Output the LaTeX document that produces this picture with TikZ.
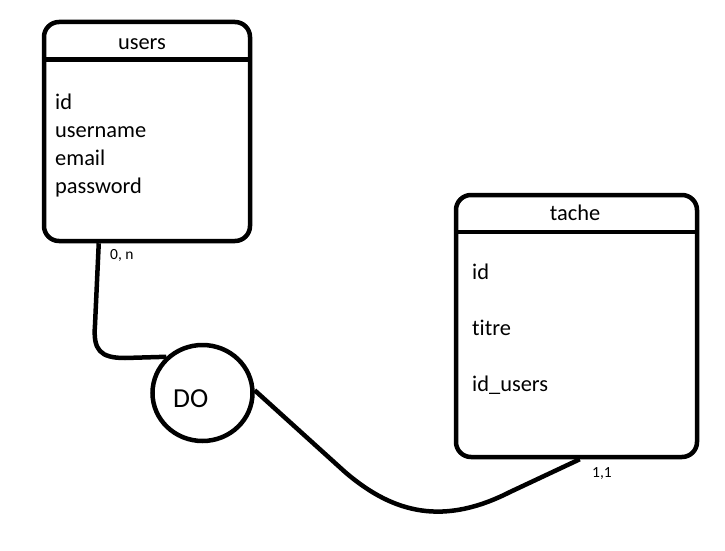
\documentclass[tikz,border=0pt]{standalone}
\usepackage{fontspec}
\setmainfont[Ligatures={NoCommon}]{Carlito}
\usetikzlibrary{calc,shapes.geometric}
\begin{document}
\begin{tikzpicture}[x=1pt,y=-1pt,
  entity/.style={draw,line width=4.5pt,rounded corners=15pt,inner sep=0pt},
  attr/.style={anchor=base west,inner sep=0pt,font=\fontsize{22.4}{26}\selectfont},
  title/.style={anchor=base,inner sep=0pt,font=\fontsize{22.4}{26}\selectfont},
  card/.style={anchor=base west,inner sep=0pt,font=\fontsize{15.5}{18}\selectfont},
  link/.style={line width=4.5pt,line join=round}]
\useasboundingbox (0,0) rectangle (725,551);
% entities
\node[entity,minimum width=206pt,minimum height=219pt] (users) at (147,131.5) {};
\node[entity,minimum width=241pt,minimum height=262pt] (tache) at (576.5,326) {};
\draw[line width=4.5pt] ($(users.north west)+(0,40)$) coordinate (uh1) -- ($(users.north east)+(0,40)$) coordinate (uh2);
\draw[line width=4.5pt] ($(tache.north west)+(0,39)$) coordinate (th1) -- ($(tache.north east)+(0,39)$) coordinate (th2);
% texts
\node[title] (tu) at (142,49) {users};
\node[attr] (u1) at (55,109) {id};
\node[attr] (u2) at (55,137) {username};
\node[attr] (u3) at (55,165) {email};
\node[attr] (u4) at (55,193) {password};
\node[title] (tt) at (575,220) {tache};
\node[attr] (t1) at (472,279) {id};
\node[attr] (t2) at (472,335) {titre};
\node[attr] (t3) at (472,391) {id\_users};
% relation
\node[draw,line width=4.5pt,ellipse,minimum width=100pt,minimum height=96pt,inner sep=0pt] (do) at (202.5,393) {};
\node[anchor=base west,inner sep=0pt,font=\fontsize{27.5}{30}\selectfont] (dolabel) at (173,407) {DO};
% connectors
\coordinate (c1) at ($(users.south west)+(57,0)$);
\coordinate (c2) at ($(tache.south west)+(126,0)$);
\draw[link] (c1) -- (95,325) .. controls (93,350) and (100,358) .. (125,358) -- (do.135);
\draw[link] (do.3) -- (345,472) .. controls (395,515) and (445,525) .. (510,492) -- (c2);
% cardinalities
\node[card] (k1) at (110,259) {0, n};
\node[card] (k2) at (592,477) {1,1};
\end{tikzpicture}
\end{document}
